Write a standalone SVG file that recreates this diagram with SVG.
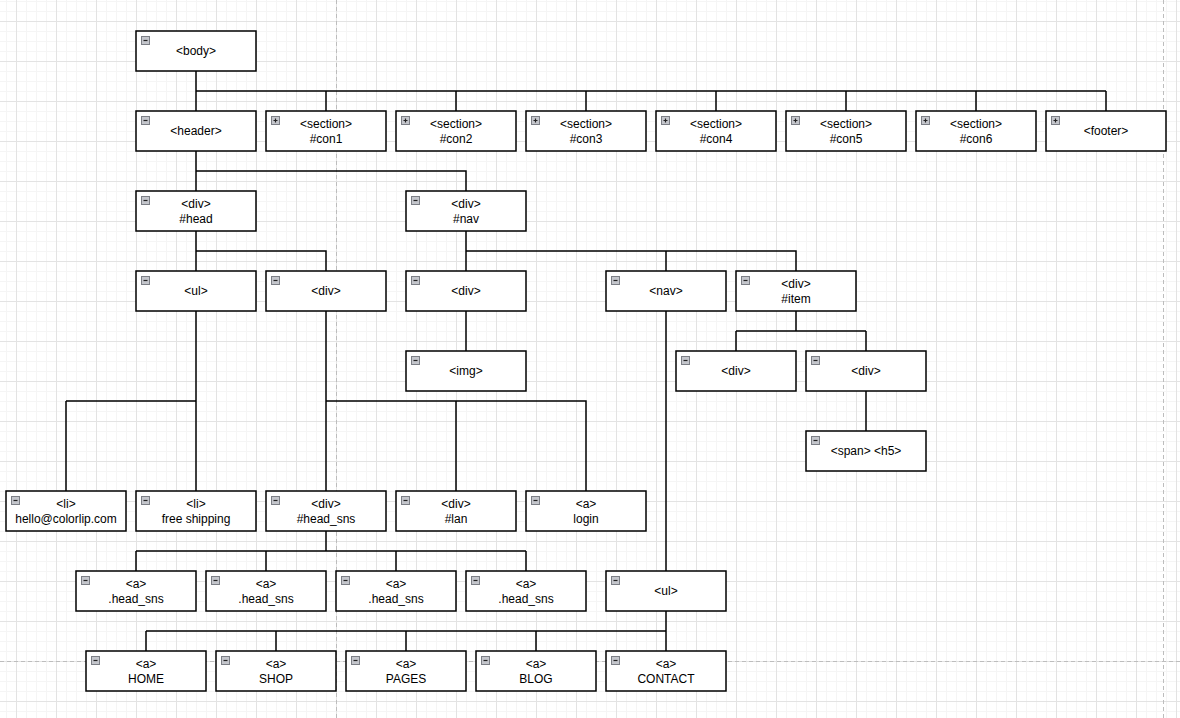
<svg xmlns="http://www.w3.org/2000/svg" width="1180" height="718" viewBox="0 0 1180 718">
<style>
.box{fill:#fff;stroke:#000;stroke-width:1.5}
.t{font-family:"Liberation Sans",Arial,sans-serif;font-size:12px;fill:#000;text-anchor:middle}
.c{fill:none;stroke:#000;stroke-width:1.5}
.pg{stroke:#bdbdbd;stroke-width:1;stroke-dasharray:4 3;fill:none}
</style>
<defs>
<pattern id="minor" x="6" y="1" width="10" height="10" patternUnits="userSpaceOnUse">
<rect x="0" y="0" width="1" height="10" fill="#f5f5f5"/>
<rect x="0" y="0" width="10" height="1" fill="#f5f5f5"/>
</pattern>
<pattern id="major" x="16" y="21" width="40" height="40" patternUnits="userSpaceOnUse">
<rect x="0" y="0" width="1" height="40" fill="#e3e3e3"/>
<rect x="0" y="0" width="40" height="1" fill="#e3e3e3"/>
</pattern>
<g id="minus">
<rect x="5.5" y="5.5" width="8" height="8" fill="#c4c6cc" stroke="#7c7f86" stroke-width="1"/>
<path d="M7.5 9.5H11.5" stroke="#222" stroke-width="1.2"/>
</g>
<g id="plus">
<rect x="5.5" y="5.5" width="8" height="8" fill="#c4c6cc" stroke="#7c7f86" stroke-width="1"/>
<path d="M7.5 9.5H11.5M9.5 7.5V11.5" stroke="#222" stroke-width="1.2"/>
</g>
</defs>
<rect width="1180" height="718" fill="#fff"/>
<rect width="1180" height="718" fill="url(#minor)"/>
<rect width="1180" height="718" fill="url(#major)"/>
<path class="pg" d="M336.5 0V718M1163.5 0V718M0 661.5H1180"/>

<g id="connectors">
<path class="c" d="M196 71V91M196 91H1106M196 91V111M326 91V111M456 91V111M586 91V111M716 91V111M846 91V111M976 91V111M1106 91V111"/>
<path class="c" d="M196 151V191M196 171H466V191"/>
<path class="c" d="M196 231V271M196 251H326V271"/>
<path class="c" d="M466 231V271M466 251H796V271M666 251V271"/>
<path class="c" d="M196 311V491M66 401H196M66 401V491"/>
<path class="c" d="M326 311V491M326 401H586V491M456 401V491"/>
<path class="c" d="M466 311V351"/>
<path class="c" d="M666 311V571"/>
<path class="c" d="M796 311V331M736 331H866M736 331V351M866 331V351"/>
<path class="c" d="M866 391V431"/>
<path class="c" d="M326 531V551M136 551H526M136 551V571M266 551V571M396 551V571M526 551V571"/>
<path class="c" d="M666 611V631M146 631H666M146 631V651M276 631V651M406 631V651M536 631V651M666 631V651"/>
</g>

<g id="n-body" transform="translate(136,31)"><rect class="box" width="120" height="40"/><use href="#minus"/><text class="t" x="60" y="24">&lt;body&gt;</text></g>

<g id="n-header" transform="translate(136,111)"><rect class="box" width="120" height="40"/><use href="#minus"/><text class="t" x="60" y="24">&lt;header&gt;</text></g>
<g id="n-con1" transform="translate(266,111)"><rect class="box" width="120" height="40"/><use href="#plus"/><text class="t" x="60" y="16.8">&lt;section&gt;</text><text class="t" x="60" y="31.8">#con1</text></g>
<g id="n-con2" transform="translate(396,111)"><rect class="box" width="120" height="40"/><use href="#plus"/><text class="t" x="60" y="16.8">&lt;section&gt;</text><text class="t" x="60" y="31.8">#con2</text></g>
<g id="n-con3" transform="translate(526,111)"><rect class="box" width="120" height="40"/><use href="#plus"/><text class="t" x="60" y="16.8">&lt;section&gt;</text><text class="t" x="60" y="31.8">#con3</text></g>
<g id="n-con4" transform="translate(656,111)"><rect class="box" width="120" height="40"/><use href="#plus"/><text class="t" x="60" y="16.8">&lt;section&gt;</text><text class="t" x="60" y="31.8">#con4</text></g>
<g id="n-con5" transform="translate(786,111)"><rect class="box" width="120" height="40"/><use href="#plus"/><text class="t" x="60" y="16.8">&lt;section&gt;</text><text class="t" x="60" y="31.8">#con5</text></g>
<g id="n-con6" transform="translate(916,111)"><rect class="box" width="120" height="40"/><use href="#plus"/><text class="t" x="60" y="16.8">&lt;section&gt;</text><text class="t" x="60" y="31.8">#con6</text></g>
<g id="n-footer" transform="translate(1046,111)"><rect class="box" width="120" height="40"/><use href="#plus"/><text class="t" x="60" y="24">&lt;footer&gt;</text></g>

<g id="n-divhead" transform="translate(136,191)"><rect class="box" width="120" height="40"/><use href="#minus"/><text class="t" x="60" y="16.8">&lt;div&gt;</text><text class="t" x="60" y="31.8">#head</text></g>
<g id="n-divnav" transform="translate(406,191)"><rect class="box" width="120" height="40"/><use href="#minus"/><text class="t" x="60" y="16.8">&lt;div&gt;</text><text class="t" x="60" y="31.8">#nav</text></g>

<g id="n-ul1" transform="translate(136,271)"><rect class="box" width="120" height="40"/><use href="#minus"/><text class="t" x="60" y="24">&lt;ul&gt;</text></g>
<g id="n-div1" transform="translate(266,271)"><rect class="box" width="120" height="40"/><use href="#minus"/><text class="t" x="60" y="24">&lt;div&gt;</text></g>
<g id="n-div2" transform="translate(406,271)"><rect class="box" width="120" height="40"/><use href="#minus"/><text class="t" x="60" y="24">&lt;div&gt;</text></g>
<g id="n-nav" transform="translate(606,271)"><rect class="box" width="120" height="40"/><use href="#minus"/><text class="t" x="60" y="24">&lt;nav&gt;</text></g>
<g id="n-divitem" transform="translate(736,271)"><rect class="box" width="120" height="40"/><use href="#minus"/><text class="t" x="60" y="16.8">&lt;div&gt;</text><text class="t" x="60" y="31.8">#item</text></g>

<g id="n-img" transform="translate(406,351)"><rect class="box" width="120" height="40"/><use href="#minus"/><text class="t" x="60" y="24">&lt;img&gt;</text></g>
<g id="n-div3" transform="translate(676,351)"><rect class="box" width="120" height="40"/><use href="#minus"/><text class="t" x="60" y="24">&lt;div&gt;</text></g>
<g id="n-div4" transform="translate(806,351)"><rect class="box" width="120" height="40"/><use href="#minus"/><text class="t" x="60" y="24">&lt;div&gt;</text></g>
<g id="n-span" transform="translate(806,431)"><rect class="box" width="120" height="40"/><use href="#minus"/><text class="t" x="60" y="24">&lt;span&gt; &lt;h5&gt;</text></g>

<g id="n-li1" transform="translate(6,491)"><rect class="box" width="120" height="40"/><use href="#minus"/><text class="t" x="60" y="16.8">&lt;li&gt;</text><text class="t" x="60" y="31.8">hello@colorlip.com</text></g>
<g id="n-li2" transform="translate(136,491)"><rect class="box" width="120" height="40"/><use href="#minus"/><text class="t" x="60" y="16.8">&lt;li&gt;</text><text class="t" x="60" y="31.8">free shipping</text></g>
<g id="n-headsns" transform="translate(266,491)"><rect class="box" width="120" height="40"/><use href="#minus"/><text class="t" x="60" y="16.8">&lt;div&gt;</text><text class="t" x="60" y="31.8">#head_sns</text></g>
<g id="n-lan" transform="translate(396,491)"><rect class="box" width="120" height="40"/><use href="#minus"/><text class="t" x="60" y="16.8">&lt;div&gt;</text><text class="t" x="60" y="31.8">#lan</text></g>
<g id="n-login" transform="translate(526,491)"><rect class="box" width="120" height="40"/><use href="#minus"/><text class="t" x="60" y="16.8">&lt;a&gt;</text><text class="t" x="60" y="31.8">login</text></g>

<g id="n-sns1" transform="translate(76,571)"><rect class="box" width="120" height="40"/><use href="#minus"/><text class="t" x="60" y="16.8">&lt;a&gt;</text><text class="t" x="60" y="31.8">.head_sns</text></g>
<g id="n-sns2" transform="translate(206,571)"><rect class="box" width="120" height="40"/><use href="#minus"/><text class="t" x="60" y="16.8">&lt;a&gt;</text><text class="t" x="60" y="31.8">.head_sns</text></g>
<g id="n-sns3" transform="translate(336,571)"><rect class="box" width="120" height="40"/><use href="#minus"/><text class="t" x="60" y="16.8">&lt;a&gt;</text><text class="t" x="60" y="31.8">.head_sns</text></g>
<g id="n-sns4" transform="translate(466,571)"><rect class="box" width="120" height="40"/><use href="#minus"/><text class="t" x="60" y="16.8">&lt;a&gt;</text><text class="t" x="60" y="31.8">.head_sns</text></g>
<g id="n-ul2" transform="translate(606,571)"><rect class="box" width="120" height="40"/><use href="#minus"/><text class="t" x="60" y="24">&lt;ul&gt;</text></g>

<g id="n-home" transform="translate(86,651)"><rect class="box" width="120" height="40"/><use href="#minus"/><text class="t" x="60" y="16.8">&lt;a&gt;</text><text class="t" x="60" y="31.8">HOME</text></g>
<g id="n-shop" transform="translate(216,651)"><rect class="box" width="120" height="40"/><use href="#minus"/><text class="t" x="60" y="16.8">&lt;a&gt;</text><text class="t" x="60" y="31.8">SHOP</text></g>
<g id="n-pages" transform="translate(346,651)"><rect class="box" width="120" height="40"/><use href="#minus"/><text class="t" x="60" y="16.8">&lt;a&gt;</text><text class="t" x="60" y="31.8">PAGES</text></g>
<g id="n-blog" transform="translate(476,651)"><rect class="box" width="120" height="40"/><use href="#minus"/><text class="t" x="60" y="16.8">&lt;a&gt;</text><text class="t" x="60" y="31.8">BLOG</text></g>
<g id="n-contact" transform="translate(606,651)"><rect class="box" width="120" height="40"/><use href="#minus"/><text class="t" x="60" y="16.8">&lt;a&gt;</text><text class="t" x="60" y="31.8">CONTACT</text></g>
</svg>
